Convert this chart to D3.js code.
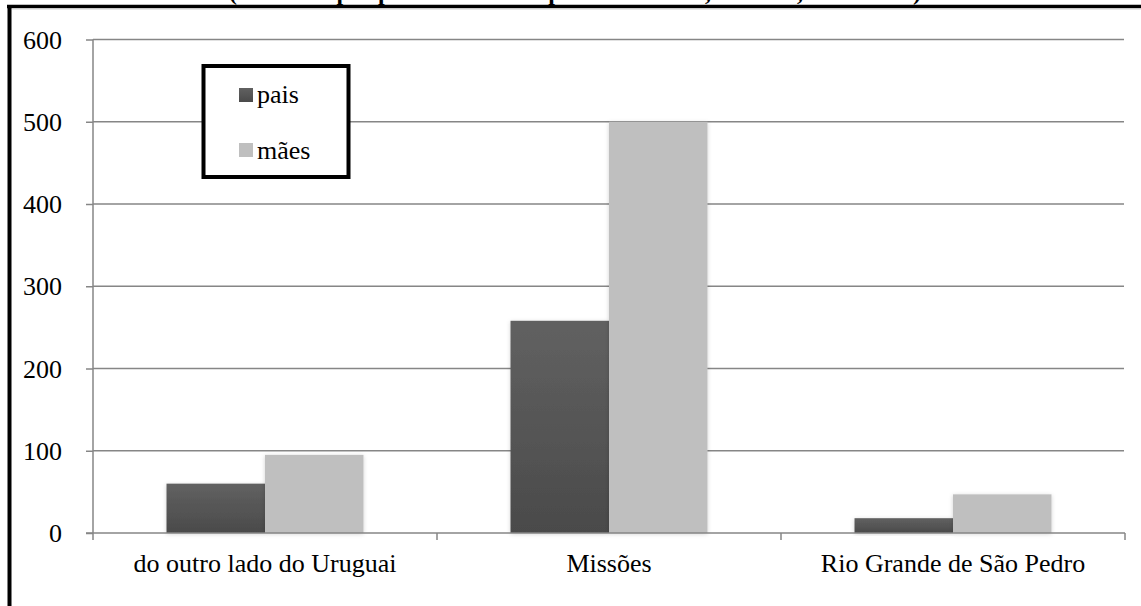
<!DOCTYPE html>
<html>
<head>
<meta charset="utf-8">
<script src="https://cdn.jsdelivr.net/npm/d3@7"></script>
<style>
  html, body { margin: 0; padding: 0; background: #fff; }
  svg { display: block; }
</style>
</head>
<body>
<div id="chart"></div>
<script>
// Origem dos pais e mães
const categories = ["do outro lado do Uruguai", "Missões", "Rio Grande de São Pedro"];
const seriesNames = ["pais", "mães"];
const pais = [60, 258, 18];
const maes = [95, 500, 47];
const yTicks = [0, 100, 200, 300, 400, 500, 600];
const titleText = "(Batismos por procedência dos pais e das mães, Missões, 1760-1775)";

const FONT = "'Liberation Serif'";
const FS = 26;
const W = 1141, H = 606;
const svg = d3.select("#chart").append("svg").attr("width", W).attr("height", H);
svg.append("rect").attr("width", W).attr("height", H).attr("fill", "#fff");

const defs = svg.append("defs");
const grad = defs.append("linearGradient").attr("id", "gPais")
  .attr("x1", 0).attr("y1", 0).attr("x2", 0).attr("y2", 1);
grad.append("stop").attr("offset", "0%").attr("stop-color", "#616161");
grad.append("stop").attr("offset", "100%").attr("stop-color", "#4a4a4a");
const shadow = defs.append("filter").attr("id", "shadow")
  .attr("x", "-20%").attr("y", "-20%").attr("width", "140%").attr("height", "140%");
shadow.append("feDropShadow").attr("dx", 0).attr("dy", 1).attr("stdDeviation", 2)
  .attr("flood-color", "#000").attr("flood-opacity", 0.18);

// title line, mostly above the frame
svg.append("text").attr("x", 575).attr("y", 0)
  .attr("text-anchor", "middle").attr("font-size", 24).attr("font-weight", "bold")
  .style("font-family", FONT).text(titleText);

// frame
svg.append("line").attr("x1", 7).attr("x2", W).attr("y1", 6.5).attr("y2", 6.5)
  .attr("stroke", "#000").attr("stroke-width", 3.5);
svg.append("line").attr("x1", 12).attr("x2", W).attr("y1", 9).attr("y2", 9)
  .attr("stroke", "#d0d0d0").attr("stroke-width", 1);
svg.append("line").attr("x1", 9.5).attr("x2", 9.5).attr("y1", 5).attr("y2", H)
  .attr("stroke", "#000").attr("stroke-width", 4);

const x0 = 93, x1 = 1125, yTop = 39.5, yBot = 533;
const y = d3.scaleLinear().domain([0, 600]).range([yBot, yTop]);
const x = d3.scaleBand().domain(categories).range([x0, x1]).padding(0);
const bw = x.bandwidth();
const xs = d3.scaleBand().domain(seriesNames).range([bw * 0.2137, bw * (1 - 0.2137)]).padding(0);

const axisColor = "#868686";

// gridlines
svg.append("g").selectAll("line").data(yTicks.filter(t => t > 0)).join("line")
  .attr("x1", x0).attr("x2", x1 - 1)
  .attr("y1", d => y(d)).attr("y2", d => y(d))
  .attr("stroke", axisColor).attr("stroke-width", 1.5);

// y axis
const yAxis = d3.axisLeft(y).tickValues(yTicks).tickSize(7).tickPadding(24).tickFormat(d3.format("d"));
const gy = svg.append("g").attr("transform", `translate(${x0},0)`).call(yAxis);
gy.select(".domain").attr("stroke", axisColor).attr("stroke-width", 1.5).attr("d", `M0,${yTop}V${yBot + 7}`);
gy.selectAll(".tick line").attr("stroke", axisColor).attr("stroke-width", 1.5);
gy.selectAll(".tick text").attr("font-size", FS).style("font-family", FONT)
  .attr("fill", "#000").attr("dy", "0.33em");

// bars
const data = categories.map((c, i) => ({ c, vals: [ { s: "pais", v: pais[i] }, { s: "mães", v: maes[i] } ] }));
const gBars = svg.append("g");
data.forEach(d => {
  gBars.selectAll(null).data(d.vals).join("rect")
    .attr("x", v => x(d.c) + xs(v.s))
    .attr("width", xs.bandwidth())
    .attr("y", v => y(v.v))
    .attr("height", v => y(0) - y(v.v))
    .attr("fill", v => v.s === "pais" ? "url(#gPais)" : "#bfbfbf")
    .attr("filter", "url(#shadow)");
});

// x axis
svg.append("line").attr("x1", x0 - 7).attr("x2", x1).attr("y1", yBot).attr("y2", yBot)
  .attr("stroke", axisColor).attr("stroke-width", 1.5);
const bounds = categories.map(c => x(c)).concat([x1]);
svg.append("g").selectAll("line").data(bounds.slice(1)).join("line")
  .attr("x1", d => d).attr("x2", d => d).attr("y1", yBot).attr("y2", yBot + 7)
  .attr("stroke", axisColor).attr("stroke-width", 1.5);
svg.append("g").selectAll("text").data(categories).join("text")
  .attr("x", d => x(d) + bw / 2).attr("y", 572)
  .attr("text-anchor", "middle").attr("font-size", FS)
  .style("font-family", FONT).text(d => d);

// legend
const lg = svg.append("g");
lg.append("rect").attr("x", 203.5).attr("y", 66).attr("width", 145).attr("height", 111)
  .attr("fill", "#fff").attr("stroke", "#000").attr("stroke-width", 4);
const legendFill = ["url(#gPais)", "#bfbfbf"];
seriesNames.forEach((s, i) => {
  lg.append("rect").attr("x", 239).attr("y", 88 + i * 55).attr("width", 14).attr("height", 14)
    .attr("fill", legendFill[i]);
  lg.append("text").attr("x", 257).attr("y", 103 + i * 56).attr("font-size", FS)
    .style("font-family", FONT).text(s);
});
</script>
</body>
</html>
